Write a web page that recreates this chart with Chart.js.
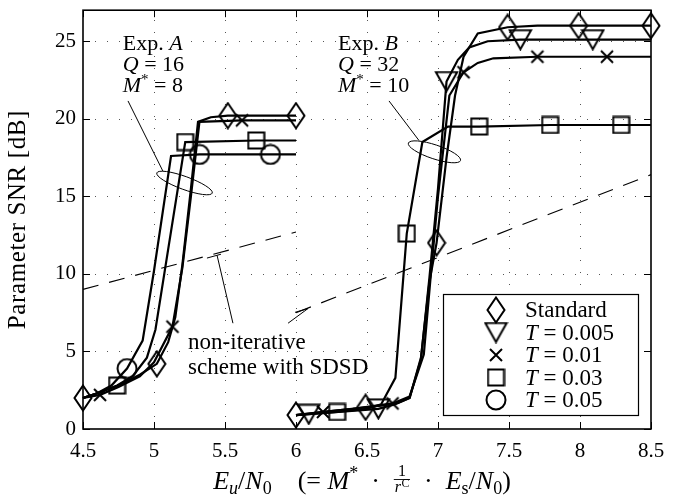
<!DOCTYPE html>
<html><head><meta charset="utf-8">
<script src="https://cdn.jsdelivr.net/npm/chart.js@4"></script>
<style>html,body{margin:0;padding:0;background:#fff}canvas{display:block}</style>
</head><body>
<canvas id="c" width="693" height="502"></canvas>
<script>
// ---------- tick labels ----------
const xTicks = [4.5, 5, 5.5, 6, 6.5, 7, 7.5, 8, 8.5];
const yTicks = [0, 5, 10, 15, 20, 25];

// ---------- Exp. A (Q = 16, M* = 8) ----------
const aStdX = [4.5, 4.6, 4.75, 4.9, 5.02, 5.1, 5.15, 5.2, 5.26, 5.31, 5.4, 5.52, 6.0];
const aStdY = [2.0, 2.3, 2.8, 3.5, 4.2, 5.6, 7.2, 10.6, 15.5, 19.8, 20.1, 20.2, 20.2];
const aStdM = [0, 4, 11, 12];
const aT01X = [4.5, 4.62, 4.75, 4.9, 5.0, 5.13, 5.2, 5.26, 5.32, 5.62, 6.0];
const aT01Y = [2.0, 2.2, 2.7, 3.4, 4.3, 6.6, 10.4, 15.0, 19.8, 19.9, 19.9];
const aT01M = [1, 5, 9];
const aT03X = [4.5, 4.6, 4.74, 4.85, 4.95, 5.01, 5.1, 5.22, 5.72, 6.0];
const aT03Y = [2.0, 2.3, 2.8, 3.4, 4.6, 6.4, 11.6, 18.5, 18.6, 18.6];
const aT03M = [2, 7, 8];
const aT05X = [4.5, 4.6, 4.7, 4.81, 4.92, 5.0, 5.12, 5.32, 5.82, 6.0];
const aT05Y = [2.0, 2.3, 2.8, 3.9, 5.7, 10.2, 17.6, 17.7, 17.7, 17.7];
const aT05M = [3, 7, 8];

// ---------- Exp. B (Q = 32, M* = 10) ----------
const bStdX = [6.0, 6.2, 6.49, 6.6, 6.72, 6.8, 6.88, 6.94, 6.99, 7.06, 7.12, 7.18, 7.28, 7.49, 7.7, 7.99, 8.2, 8.5];
const bStdY = [0.9, 1.1, 1.4, 1.5, 1.7, 2.0, 4.6, 9.5, 12.0, 17.5, 21.5, 24.0, 25.5, 25.9, 26.0, 26.0, 26.0, 26.0];
const bStdM = [0, 2, 8, 13, 15, 17];
const bT005X = [6.0, 6.09, 6.3, 6.58, 6.7, 6.8, 6.88, 6.94, 7.0, 7.06, 7.14, 7.22, 7.35, 7.58, 8.09, 8.5];
const bT005Y = [0.9, 0.95, 1.1, 1.3, 1.6, 2.0, 4.5, 9.8, 15.5, 22.4, 23.8, 24.6, 25.0, 25.1, 25.1, 25.1];
const bT005M = [1, 3, 9, 13, 14];
const bT01X = [6.0, 6.19, 6.4, 6.68, 6.8, 6.9, 6.95, 7.0, 7.08, 7.18, 7.28, 7.39, 7.7, 8.19, 8.5];
const bT01Y = [0.9, 1.1, 1.3, 1.65, 2.1, 4.8, 10.0, 15.0, 21.5, 23.0, 23.6, 23.9, 24.0, 24.0, 24.0];
const bT01M = [1, 3, 9, 12, 13];
const bT03X = [6.0, 6.29, 6.5, 6.6, 6.7, 6.78, 6.89, 7.07, 7.29, 7.79, 8.29, 8.5];
const bT03Y = [0.9, 1.1, 1.3, 1.6, 3.3, 12.6, 18.5, 19.5, 19.5, 19.6, 19.6, 19.6];
const bT03M = [1, 5, 8, 9, 10];

// ---------- non-iterative scheme with SDSD (dashed) ----------
const dashAX = [4.5, 6.0];
const dashAY = [9.0, 12.7];
const dashBX = [6.0, 8.5];
const dashBY = [7.5, 16.4];

const legendLabels = ['Standard', '0.005', '0.01', '0.03', '0.05'];

const SERIF = '"Liberation Serif", "Times New Roman", serif';

function mk(w, h, draw) {
  const c = document.createElement('canvas');
  c.width = w; c.height = h;
  const g = c.getContext('2d');
  g.strokeStyle = '#000'; g.lineWidth = 2; g.lineJoin = 'miter';
  draw(g, w, h);
  return c;
}
const MK = {
  diamond: mk(20, 28, (g, w, h) => { g.beginPath(); g.moveTo(w/2, 1.5); g.lineTo(w-1.5, h/2); g.lineTo(w/2, h-1.5); g.lineTo(1.5, h/2); g.closePath(); g.stroke(); }),
  tri: mk(25, 22, (g, w, h) => { g.beginPath(); g.moveTo(1.8, 1.5); g.lineTo(w-1.8, 1.5); g.lineTo(w/2, h-1.5); g.closePath(); g.stroke(); }),
  cross: mk(16, 16, (g, w, h) => { g.beginPath(); g.moveTo(2, 2); g.lineTo(w-2, h-2); g.moveTo(w-2, 2); g.lineTo(2, h-2); g.stroke(); }),
  square: mk(19, 19, (g, w, h) => { g.strokeRect(1.5, 1.5, w-3, h-3); }),
  circle: mk(22, 22, (g, w, h) => { g.beginPath(); g.arc(w/2, h/2, w/2-1.5, 0, Math.PI*2); g.stroke(); })
};

function series(xs, ys, marks, marker) {
  return {
    data: xs.map((x, i) => ({x: x, y: ys[i]})),
    borderColor: '#000', borderWidth: 2.2, tension: 0, fill: false,
    pointStyle: marker, pointRadius: xs.map((_, i) => marks.includes(i) ? 8 : 0),
    pointHoverRadius: 0, pointHitRadius: 0, clip: false, borderJoinStyle: 'miter'
  };
}
function dashed(xs, ys) {
  return {
    data: xs.map((x, i) => ({x: x, y: ys[i]})),
    borderColor: '#000', borderWidth: 1.1, borderDash: [16, 11], tension: 0, fill: false,
    pointRadius: 0, pointHoverRadius: 0, clip: false
  };
}

function fnt(p, base) {
  return (p.it ? 'italic ' : '') + (p.size || base) + 'px ' + SERIF;
}
function rich(ctx, parts, x, y, base, align) {
  let w = 0;
  for (const p of parts) {
    if (p.frac) {
      ctx.font = (p.size) + 'px ' + SERIF;
      const nw = ctx.measureText(p.num).width;
      ctx.font = 'italic ' + p.size + 'px ' + SERIF;
      const rw = ctx.measureText(p.den).width;
      ctx.font = (p.size - 4) + 'px ' + SERIF;
      const sw = ctx.measureText(p.sup).width;
      p.w = Math.max(nw, rw + sw) + 4;
      p.nw = nw; p.rw = rw; p.sw = sw;
    } else {
      ctx.font = fnt(p, base);
      p.w = ctx.measureText(p.t).width;
    }
    w += p.w;
  }
  let cx = align === 'center' ? x - w / 2 : x;
  ctx.textAlign = 'left'; ctx.textBaseline = 'alphabetic'; ctx.fillStyle = '#000';
  for (const p of parts) {
    if (p.frac) {
      ctx.font = p.size + 'px ' + SERIF;
      ctx.fillText(p.num, cx + (p.w - p.nw) / 2, y - 13);
      ctx.beginPath(); ctx.lineWidth = 0.9; ctx.strokeStyle = '#000';
      ctx.moveTo(cx + 1, y - 9.5); ctx.lineTo(cx + p.w - 1, y - 9.5); ctx.stroke();
      const dx = cx + (p.w - p.rw - p.sw) / 2;
      ctx.font = 'italic ' + p.size + 'px ' + SERIF;
      ctx.fillText(p.den, dx, y + 3);
      ctx.font = (p.size - 4) + 'px ' + SERIF;
      ctx.fillText(p.sup, dx + p.rw + 0.5, y - 2);
    } else {
      ctx.font = fnt(p, base);
      ctx.fillText(p.t, cx, y + (p.dy || 0));
    }
    cx += p.w;
  }
}

const deco = {
  id: 'deco',
  beforeDatasetsDraw(chart) {
    const {ctx, chartArea: a, scales: {x, y}} = chart;
    ctx.save();
    ctx.strokeStyle = '#555'; ctx.lineWidth = 1; ctx.setLineDash([1, 11]);
    for (const v of xTicks) {
      if (v === xTicks[0] || v === xTicks[xTicks.length - 1]) continue;
      const px = Math.round(x.getPixelForValue(v)) + 0.5;
      ctx.beginPath(); ctx.moveTo(px, a.bottom); ctx.lineTo(px, a.top); ctx.stroke();
    }
    for (const v of yTicks) {
      if (v === 0) continue;
      const py = Math.round(y.getPixelForValue(v)) + 0.5;
      ctx.beginPath(); ctx.moveTo(a.left, py); ctx.lineTo(a.right, py); ctx.stroke();
    }
    ctx.restore();
  },
  afterDatasetsDraw(chart) {
    const {ctx, chartArea: a, scales: {x, y}} = chart;
    const X = v => x.getPixelForValue(v), Y = v => y.getPixelForValue(v);
    ctx.save();
    // inner ticks
    ctx.strokeStyle = '#000'; ctx.lineWidth = 1; ctx.setLineDash([]);
    ctx.beginPath();
    for (const v of xTicks) {
      const px = Math.round(X(v)) + 0.5;
      ctx.moveTo(px, a.bottom); ctx.lineTo(px, a.bottom - 7);
      ctx.moveTo(px, a.top); ctx.lineTo(px, a.top + 7);
    }
    for (const v of yTicks) {
      const py = Math.round(Y(v)) + 0.5;
      ctx.moveTo(a.left, py); ctx.lineTo(a.left + 7, py);
      ctx.moveTo(a.right, py); ctx.lineTo(a.right - 7, py);
    }
    ctx.stroke();
    // frame
    ctx.lineWidth = 1.6;
    ctx.strokeRect(a.left, a.top, a.right - a.left, a.bottom - a.top);

    // ellipses and leader lines
    ctx.lineWidth = 1;
    ctx.beginPath(); ctx.ellipse(X(5.215), Y(15.86), 29.5, 6.5, 20 * Math.PI / 180, 0, Math.PI * 2); ctx.stroke();
    ctx.beginPath(); ctx.ellipse(X(6.975), Y(17.87), 27.5, 7, 18.5 * Math.PI / 180, 0, Math.PI * 2); ctx.stroke();
    const seg = (x1, y1, x2, y2) => { ctx.beginPath(); ctx.moveTo(X(x1), Y(y1)); ctx.lineTo(X(x2), Y(y2)); ctx.stroke(); };
    seg(4.817, 21.15, 5.063, 16.62);
    seg(6.655, 21.15, 6.866, 18.6);
    seg(5.556, 6.82, 5.444, 11.2);
    seg(5.373, 11.02, 5.472, 11.27);
    seg(5.944, 6.82, 6.085, 7.77);
    seg(5.993, 7.52, 6.085, 7.77);

    // annotation texts
    const f = 22;
    rich(ctx, [{t: 'Exp. '}, {t: 'A', it: 1}], X(4.78), Y(24.46), f);
    rich(ctx, [{t: 'Q', it: 1}, {t: ' = 16'}], X(4.78), Y(23.06), f);
    rich(ctx, [{t: 'M', it: 1}, {t: '*', size: 15, dy: -8}, {t: ' = 8'}], X(4.78), Y(21.72), f);
    rich(ctx, [{t: 'Exp. '}, {t: 'B', it: 1}], X(6.296), Y(24.46), f);
    rich(ctx, [{t: 'Q', it: 1}, {t: ' = 32'}], X(6.296), Y(23.06), f);
    rich(ctx, [{t: 'M', it: 1}, {t: '*', size: 15, dy: -8}, {t: ' = 10'}], X(6.296), Y(21.72), f);
    rich(ctx, [{t: 'non-iterative'}], X(5.24), Y(5.16), 23);
    rich(ctx, [{t: 'scheme with SDSD'}], X(5.24), Y(3.57), 23);

    // legend
    const lx = a.right - 208, ly = a.bottom - 135;
    ctx.fillStyle = '#fff';
    ctx.fillRect(lx, ly, 195, 121);
    ctx.lineWidth = 1.2; ctx.strokeStyle = '#000';
    ctx.strokeRect(lx + 0.5, ly + 0.5, 195, 121);
    const imgs = [MK.diamond, MK.tri, MK.cross, MK.square, MK.circle];
    for (let i = 0; i < 5; i++) {
      const ry = ly + 16 + i * 22.5;
      const im = imgs[i];
      ctx.drawImage(im, lx + 53 - im.width / 2, ry - im.height / 2);
      if (i === 0) rich(ctx, [{t: legendLabels[0]}], lx + 82, ry + 7, 23);
      else rich(ctx, [{t: 'T', it: 1}, {t: ' = ' + legendLabels[i]}], lx + 82, ry + 7, 23);
    }

    // axis titles
    ctx.save();
    ctx.translate(25, (a.top + a.bottom) / 2);
    ctx.rotate(-Math.PI / 2);
    ctx.letterSpacing = '0.6px';
    rich(ctx, [{t: 'Parameter SNR [dB]'}], 0, 0, 25, 'center');
    ctx.letterSpacing = '0px';
    ctx.restore();
    const S = 26, s = 18;
    rich(ctx, [
      {t: 'E', it: 1}, {t: 'u', it: 1, size: s, dy: 5}, {t: '/'}, {t: 'N', it: 1}, {t: '0', size: s, dy: 5},
      {t: '    (= '}, {t: 'M', it: 1}, {t: '*', size: s, dy: -10}, {t: '  ·  '},
      {frac: true, num: '1', den: 'r', sup: 'C', size: 16},
      {t: '  ·  '}, {t: 'E', it: 1}, {t: 's', size: s, dy: 5}, {t: '/'}, {t: 'N', it: 1}, {t: '0', size: s, dy: 5}, {t: ')'}
    ], 362, 489, S, 'center');
    ctx.restore();
  }
};

new Chart(document.getElementById('c'), {
  type: 'line',
  data: {
    datasets: [
      dashed(dashAX, dashAY),
      dashed(dashBX, dashBY),
      series(aStdX, aStdY, aStdM, MK.diamond),
      series(aT01X, aT01Y, aT01M, MK.cross),
      series(aT03X, aT03Y, aT03M, MK.square),
      series(aT05X, aT05Y, aT05M, MK.circle),
      series(bStdX, bStdY, bStdM, MK.diamond),
      series(bT005X, bT005Y, bT005M, MK.tri),
      series(bT01X, bT01Y, bT01M, MK.cross),
      series(bT03X, bT03Y, bT03M, MK.square)
    ]
  },
  options: {
    responsive: false, animation: false, devicePixelRatio: 1,
    layout: {padding: {left: 0, right: 42, top: 5, bottom: 0}},
    plugins: {legend: {display: false}, tooltip: {enabled: false}},
    events: [],
    scales: {
      x: {
        type: 'linear', min: 4.5, max: 8.5,
        afterBuildTicks: s => { s.ticks = xTicks.map(v => ({value: v})); },
        afterFit: s => { s.height = 73; s.paddingLeft = 0; s.paddingRight = 0; },
        grid: {display: false, drawTicks: false}, border: {display: false},
        ticks: {font: {family: SERIF, size: 21}, color: '#000', padding: 10, maxRotation: 0, autoSkip: false, callback: v => String(v)}
      },
      y: {
        type: 'linear', min: 0, max: 27,
        afterBuildTicks: s => { s.ticks = yTicks.map(v => ({value: v})); },
        afterFit: s => { s.width = 83; s.paddingTop = 0; s.paddingBottom = 0; },
        grid: {display: false, drawTicks: false}, border: {display: false},
        ticks: {font: {family: SERIF, size: 21}, color: '#000', padding: 7, autoSkip: false, callback: v => String(v)}
      }
    }
  },
  plugins: [deco]
});
</script>
</body></html>
